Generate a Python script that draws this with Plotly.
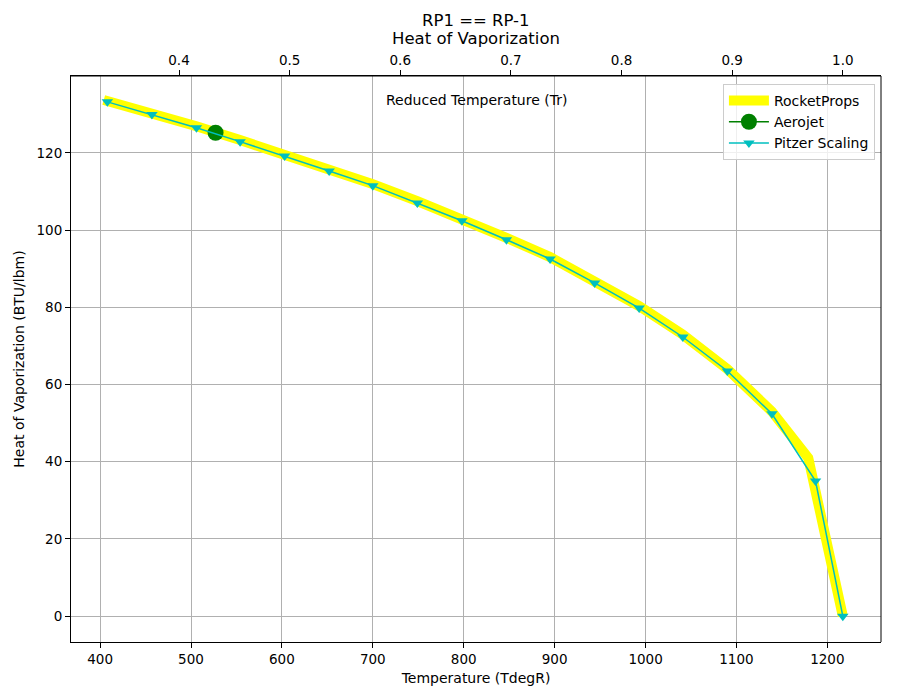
import plotly.graph_objects as go

TC = 1217.0  # critical temperature (degR) used for reduced temperature axis

# RocketProps curve
rp_T = [404, 457, 506, 554, 603, 652, 700, 749, 798, 847, 895, 944, 993, 1041, 1090, 1139, 1179, 1217]
rp_H = [133.7, 130.3, 126.9, 123.3, 119.6, 115.7, 111.9, 107.5, 102.9, 98.0, 93.0, 86.8, 80.3, 72.9, 64.0, 53.0, 41.0, 0.0]

# Aerojet point
aj_T = [527]
aj_H = [125.2]

# Pitzer Scaling
pz_T = [408, 457, 506, 554, 603, 652, 700, 749, 798, 847, 895, 944, 993, 1041, 1090, 1139, 1187, 1217]
pz_H = [133.2, 129.9, 126.5, 122.9, 119.2, 115.3, 111.5, 107.0, 102.4, 97.5, 92.5, 86.3, 79.8, 72.3, 63.5, 52.4, 35.0, 0.0]

xmin, xmax = 368, 1259
ymin, ymax = -6.7, 139.9

fig = go.Figure()
fig.add_trace(go.Scatter(x=rp_T, y=rp_H, mode="lines", name="RocketProps",
                         line=dict(color="#ffff00", width=10)))
fig.add_trace(go.Scatter(x=aj_T, y=aj_H, mode="lines+markers", name="Aerojet",
                         line=dict(color="#008000", width=1.5),
                         marker=dict(color="#008000", size=16, symbol="circle")))
fig.add_trace(go.Scatter(x=pz_T, y=pz_H, mode="lines+markers", name="Pitzer Scaling",
                         line=dict(color="#00bfbf", width=1.5),
                         marker=dict(color="#00bfbf", size=10, symbol="triangle-down")))
# invisible trace to anchor top (reduced temperature) axis
fig.add_trace(go.Scatter(x=[t / TC for t in pz_T], y=pz_H, xaxis="x2", mode="lines",
                         line=dict(width=0), opacity=0, showlegend=False, hoverinfo="skip"))

axis_common = dict(showline=True, linecolor="black", linewidth=1,
                   ticks="outside", ticklen=5, tickcolor="black",
                   tickfont=dict(size=13.5, color="black"), zeroline=False)

fig.update_layout(
    width=900, height=700,
    margin=dict(l=71, r=19, t=76, b=58),
    paper_bgcolor="white", plot_bgcolor="white",
    font=dict(family="DejaVu Sans", size=13.5, color="black"),
    xaxis=dict(range=[xmin, xmax], dtick=100, tick0=400, showgrid=True, gridcolor="#b0b0b0",
               gridwidth=1, title=dict(text="Temperature (TdegR)", font=dict(size=14), standoff=6),
               **axis_common),
    xaxis2=dict(range=[xmin / TC, xmax / TC], overlaying="x", side="top", anchor="y",
                tickvals=[0.4, 0.5, 0.6, 0.7, 0.8, 0.9, 1.0], tickformat=".1f",
                showgrid=False, **axis_common),
    yaxis=dict(range=[ymin, ymax], dtick=20, showgrid=True, gridcolor="#b0b0b0", gridwidth=1,
               title=dict(text="Heat of Vaporization (BTU/lbm)", font=dict(size=14), standoff=8),
               **axis_common),
    legend=dict(x=0.9925, xanchor="right", y=0.986, yanchor="top",
                bgcolor="rgba(255,255,255,0.8)", bordercolor="#cccccc", borderwidth=1,
                font=dict(size=14), tracegroupgap=0, itemwidth=40),
    showlegend=True,
    annotations=[
        dict(text="RP1 == RP-1", xref="paper", yref="paper", x=0.5, y=1.0975,
             showarrow=False, font=dict(size=16.5), yanchor="middle"),
        dict(text="Heat of Vaporization", xref="paper", yref="paper", x=0.5, y=1.066,
             showarrow=False, font=dict(size=16.5), yanchor="middle"),
        dict(text="Reduced Temperature (Tr)", xref="paper", yref="paper", x=0.5, y=0.957,
             showarrow=False, font=dict(size=14), yanchor="middle"),
    ],
)
# right and top border lines
fig.add_shape(type="line", xref="paper", yref="paper", x0=1, x1=1, y0=0, y1=1,
              line=dict(color="black", width=1))
fig.add_shape(type="line", xref="paper", yref="paper", x0=0, x1=1, y0=1, y1=1,
              line=dict(color="black", width=1))

fig.write_html("out.html")
